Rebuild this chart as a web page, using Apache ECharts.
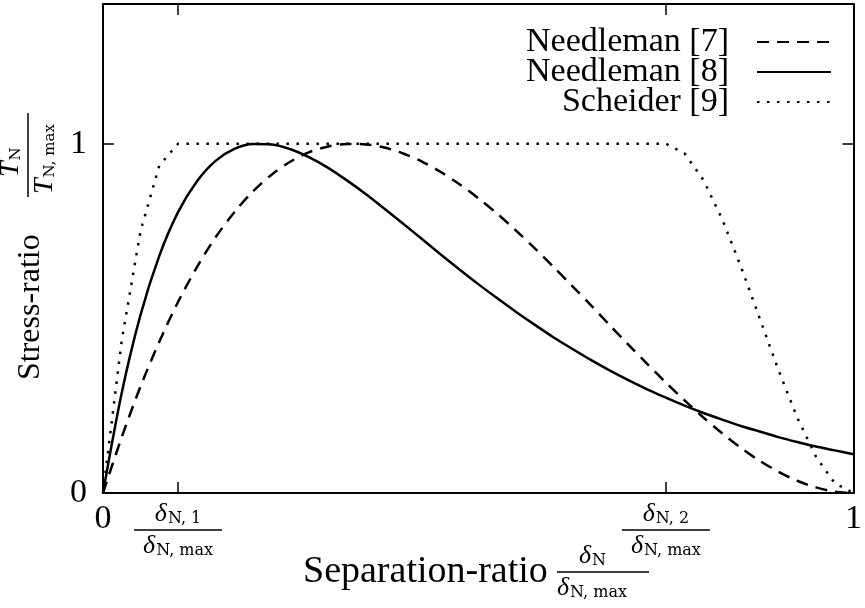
<!DOCTYPE html>
<html>
<head>
<meta charset="utf-8">
<script src="https://cdn.jsdelivr.net/npm/echarts@6/dist/echarts.min.js"></script>
<style>
  html, body { margin: 0; padding: 0; background: #fff; }
  #box { width: 865px; height: 608px; }
</style>
</head>
<body>
<div id="box"></div>
<script>
// separation ratio samples
const aX = [0, 0.025, 0.05, 0.075, 0.1, 0.125, 0.15, 0.175, 0.2, 0.225, 0.25, 0.275, 0.3, 0.325, 0.35, 0.375,
    0.4, 0.425, 0.45, 0.475, 0.5, 0.525, 0.55, 0.575, 0.6, 0.625, 0.65, 0.675, 0.7, 0.725, 0.75, 0.775,
    0.8, 0.825, 0.85, 0.875, 0.9, 0.925, 0.95, 0.975, 1];
// Needleman [7] dashed
const aNeedle7 = [0, 0.160, 0.305, 0.433, 0.547, 0.646, 0.732, 0.804, 0.864, 0.912, 0.949, 0.976, 0.992, 0.9995, 0.998, 0.989,
    0.972, 0.949, 0.919, 0.884, 0.844, 0.800, 0.752, 0.701, 0.648, 0.593, 0.538, 0.481, 0.425, 0.370, 0.316, 0.265,
    0.216, 0.171, 0.129, 0.092, 0.061, 0.035, 0.016, 0.004, 0];
// Needleman [8] solid
const aNeedle8 = [0, 0.287, 0.510, 0.679, 0.804, 0.892, 0.951, 0.985, 0.999, 0.998, 0.984, 0.961, 0.931, 0.895, 0.856, 0.814,
    0.771, 0.727, 0.683, 0.640, 0.598, 0.558, 0.519, 0.482, 0.446, 0.413, 0.381, 0.351, 0.323, 0.297, 0.273, 0.250,
    0.229, 0.210, 0.192, 0.176, 0.160, 0.146, 0.133, 0.122, 0.111];
// Scheider [9] dotted
const aScheider = [0, 0.4375, 0.75, 0.9375, 1, 1, 1, 1, 1, 1, 1, 1, 1, 1, 1, 1,
    1, 1, 1, 1, 1, 1, 1, 1, 1, 1, 1, 1, 1, 1, 1, 0.972,
    0.896, 0.784, 0.648, 0.5, 0.352, 0.216, 0.104, 0.028, 0];

const aXLabels = [0, 0.1, 0.75, 1];
const aXTicks = [0.1, 0.75];
const aYLabels = [0, 1];
const aYTicks = [1];
const aNames = ['Needleman [7]', 'Needleman [8]', 'Scheider [9]'];

const sSerif = 'Liberation Serif';
const sSub = 'DejaVu Serif';

const oFrac = {
    d: { fontFamily: sSerif, fontStyle: 'italic', fontSize: 26, lineHeight: 24, color: '#000' },
    sb: { fontFamily: sSub, fontSize: 16, lineHeight: 14, padding: [10, 0, 0, 1], color: '#000' },
    bar: { width: 88, height: 1.5, lineHeight: 8, backgroundColor: '#000' },
};

function pairs(aY){
    return aX.map((x, i) => [x, aY[i]]);
}

const myChart = echarts.init(document.getElementById('box'));

const oLine = { show: true, onZero: false, lineStyle: { color: '#000', width: 2 } };
const oTick = { show: true, inside: true, length: 11, lineStyle: { color: '#000', width: 1.5 } };

const option = {
    animation: false,
    backgroundColor: '#fff',
    grid: { left: 103, right: 5, top: 4, bottom: 115 },
    legend: {
        orient: 'vertical',
        right: 33,
        top: 25,
        padding: 0,
        align: 'right',
        itemWidth: 74,
        itemHeight: 20,
        itemGap: -4,
        data: aNames,
        itemStyle: { opacity: 0 },
        textStyle: { fontFamily: sSerif, fontSize: 34, lineHeight: 31, color: '#000', padding: [0, 23, 0, 0] },
    },
    xAxis: [{
        type: 'value', min: 0, max: 1, position: 'bottom',
        axisLine: oLine, splitLine: { show: false },
        axisTick: { ...oTick, customValues: aXTicks },
        axisLabel: {
            customValues: aXLabels,
            margin: 9,
            fontFamily: sSerif, fontSize: 34, color: '#000',
            formatter: v => {
                if (v === 0 || v === 1) return String(v);
                const k = v === 0.1 ? '1' : '2';
                return `{d|δ}{sb|N, ${k}}\n{bar| }\n{d|δ}{sb|N, max}`;
            },
            rich: oFrac,
        },
    }, {
        type: 'value', min: 0, max: 1, position: 'top',
        axisLine: oLine, splitLine: { show: false },
        axisTick: { ...oTick, customValues: aXTicks },
        axisLabel: { show: false },
    }],
    yAxis: [{
        type: 'value', min: 0, max: 1.4, position: 'left',
        axisLine: oLine, splitLine: { show: false },
        axisTick: { ...oTick, customValues: aYTicks },
        axisLabel: { customValues: aYLabels, margin: 16, fontFamily: sSerif, fontSize: 34, color: '#000' },
    }, {
        type: 'value', min: 0, max: 1.4, position: 'right',
        axisLine: oLine, splitLine: { show: false },
        axisTick: { ...oTick, customValues: aYTicks },
        axisLabel: { show: false },
    }],
    graphic: [{
        // x axis title
        type: 'text', x: 303, y: 572, silent: true,
        style: {
            text: '{s1| }{d|δ}{sb|N}\n{t|Separation-ratio}{bar| }\n{s3| }{d|δ}{sb|N, max}',
            align: 'left', verticalAlign: 'middle',
            rich: {
                ...oFrac,
                s1: { width: 276, lineHeight: 24 },
                s3: { width: 254, lineHeight: 24 },
                t: { width: 254, fontFamily: sSerif, fontSize: 38, lineHeight: 8, color: '#000' },
                bar: { width: 92, height: 1.5, lineHeight: 8, backgroundColor: '#000' },
            },
        },
    }, {
        // y axis title
        type: 'text', x: 28, y: 380, rotation: Math.PI / 2, silent: true,
        style: {
            text: '{s1| }{T|T}{ts|N}\n{t|Stress-ratio}{bar| }\n{s3| }{T|T}{ts|N, max}',
            align: 'left', verticalAlign: 'middle',
            rich: {
                s1: { width: 203, lineHeight: 26 },
                s3: { width: 186, lineHeight: 26 },
                T: { fontFamily: sSerif, fontStyle: 'italic', fontSize: 28, lineHeight: 24, color: '#000' },
                ts: { fontFamily: sSub, fontSize: 15, lineHeight: 14, padding: [10, 0, 0, 1], color: '#000' },
                t: { width: 183, fontFamily: sSerif, fontSize: 32, lineHeight: 8, padding: [6, 0, 0, 0], color: '#000' },
                bar: { width: 84, height: 1.5, lineHeight: 8, backgroundColor: '#000' },
            },
        },
    }],
    series: [{
        name: aNames[0], type: 'line', data: pairs(aNeedle7), symbol: 'none', smooth: 0.3,
        lineStyle: { color: '#000', width: 2.5, type: [12, 8] },
        itemStyle: { color: '#000' },
    }, {
        name: aNames[1], type: 'line', data: pairs(aNeedle8), symbol: 'none', smooth: 0.3,
        lineStyle: { color: '#000', width: 2.5, type: 'solid' },
        itemStyle: { color: '#000' },
    }, {
        name: aNames[2], type: 'line', data: pairs(aScheider), symbol: 'none',
        lineStyle: { color: '#000', width: 2.5, type: [2.5, 7.5] },
        itemStyle: { color: '#000' },
    }],
};

myChart.setOption(option);
</script>
</body>
</html>
